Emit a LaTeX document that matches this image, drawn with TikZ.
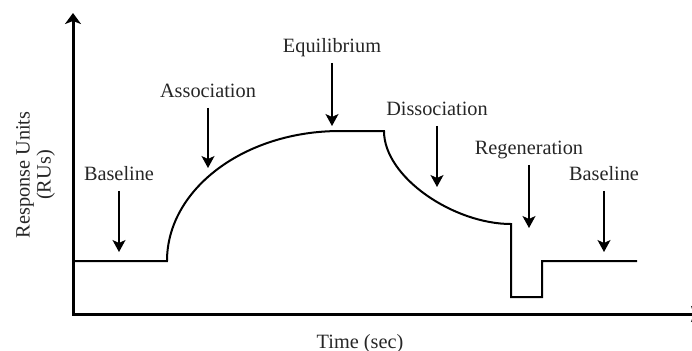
\documentclass[tikz,border=0pt]{standalone}
\usepackage{fontspec}
\setmainfont{Liberation Serif}
\usepackage{tikz}
\usetikzlibrary{arrows.meta, calc}
\tikzset{
x=0.5pt, y=-0.5pt,
>={Stealth[length=6pt, width=6.5pt, inset=1.5pt]},
axis/.style={%
    line width=1.5pt,
    line join=miter,
    {Stealth[length=5.5pt, width=8pt, inset=1.5pt]}-{Stealth[length=5.5pt, width=8pt, inset=1.5pt]}
},
signal/.style={line width=1pt, line join=miter},
pointer/.style={->, line width=0.8pt},
lbl/.style={%
    anchor=base,
    inner sep=2.75pt,
    text depth=0.25em,
    text=black!85,
    % Font
    font=\fontsize{10.15}{10.5}\selectfont
},
}

\begin{document}
\begin{tikzpicture}
	\useasboundingbox (0,0) rectangle (692,350);
	\clip (0,0) rectangle (692,350);

	% axes
	\coordinate (ytip) at (73,13);
	\coordinate (origin) at (73,314);
	\coordinate (xtip) at (702,314);
	\draw[axis] (ytip) -- (origin) -- (xtip);

	\node[lbl, anchor=center, rotate=90, align=center] at (36,175) (ylab) {Response Units\\(RUs)};
	\node[lbl] at (360,348) (xlab) {Time (sec)};

	% sensorgram
	\draw[signal] (73,261) -- (167,261)
		.. controls (167,189) and (244.5,131) .. (340,131)
		-- (384,131)
		.. controls (384,177.5) and (454,224) .. (511,224)
		-- (511,297) -- (542,297) -- (542,261) -- (637,261);

	% phase labels
	\node[lbl] at (119,180) (base1) {Baseline};
	\node[lbl] at (208,97) (assoc) {Association};
	\node[lbl] at (332,52) (equil) {Equilibrium};
	\node[lbl] at (437,115) (dissoc) {Dissociation};
	\node[lbl] at (529,154) (regen) {Regeneration};
	\node[lbl] at (604,180) (base2) {Baseline};

	\coordinate (base1tip) at (119,252);
	\coordinate (assoctip) at (208,168);
	\coordinate (equiltip) at (332,126);
	\coordinate (dissoctip) at (437,187);
	\coordinate (regentip) at (529,228);
	\coordinate (base2tip) at (604,252);

	\path (base1) edge[pointer] (base1tip);
	\path (assoc) edge[pointer] (assoctip);
	\path (equil) edge[pointer] (equiltip);
	\path (dissoc) edge[pointer] (dissoctip);
	\path (regen) edge[pointer] (regentip);
	\path (base2) edge[pointer] (base2tip);
\end{tikzpicture}
\end{document}
